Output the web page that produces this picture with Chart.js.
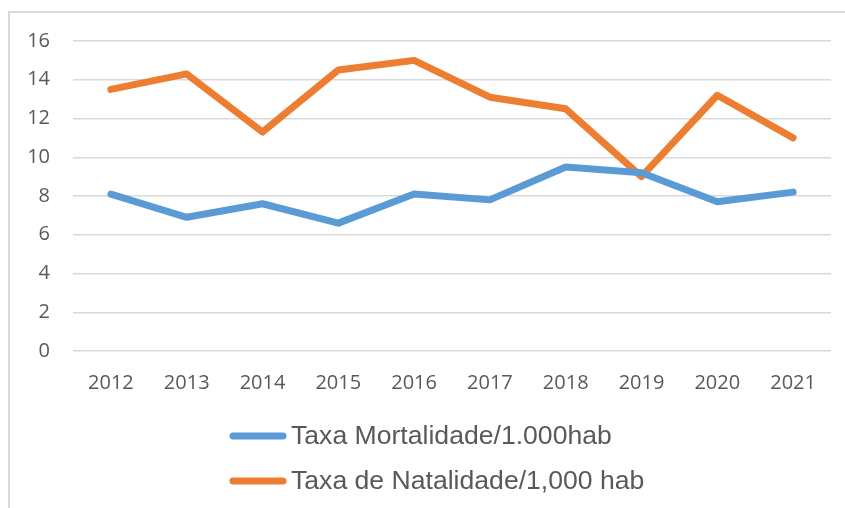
<!DOCTYPE html>
<html>
<head>
<meta charset="utf-8">
<script src="https://cdn.jsdelivr.net/npm/chart.js@4"></script>
<style>
  html, body { margin: 0; padding: 0; background: #fff; overflow: hidden; }
  #wrap { position: relative; width: 845px; height: 508px; }
  #frame { position: absolute; left: 8px; top: 11px; width: 900px; height: 600px; border: 2px solid #d9d9d9; box-sizing: border-box; }
  canvas { position: absolute; left: 0; top: 0; }
</style>
</head>
<body>
<div id="wrap">
  <div id="frame"></div>
  <canvas id="myChart" width="845" height="508"></canvas>
</div>
<script>
var years = ['2012', '2013', '2014', '2015', '2016', '2017', '2018', '2019', '2020', '2021'];
var mortalidade = [8.1, 6.9, 7.6, 6.6, 8.1, 7.8, 9.5, 9.2, 7.7, 8.2];
var natalidade = [13.5, 14.3, 11.3, 14.5, 15.0, 13.1, 12.5, 9.0, 13.2, 11.0];
var seriesNames = ['Taxa Mortalidade/1.000hab', 'Taxa de Natalidade/1,000 hab'];
var yTicks = [0, 2, 4, 6, 8, 10, 12, 14, 16];

// legend drawn by hand so both rows start at the same x
var legendPlugin = {
  id: 'stackedLegend',
  afterDraw: function (chart) {
    var ctx = chart.ctx;
    var rows = [436, 481];
    ctx.save();
    ctx.font = '26.6px "Liberation Sans", Arial, sans-serif';
    ctx.fillStyle = '#595959';
    ctx.textBaseline = 'middle';
    chart.data.datasets.forEach(function (ds, i) {
      var y = rows[i];
      ctx.strokeStyle = ds.borderColor;
      ctx.lineWidth = 7;
      ctx.lineCap = 'round';
      ctx.beginPath();
      ctx.moveTo(233, y);
      ctx.lineTo(283, y);
      ctx.stroke();
      ctx.fillText(ds.label, 291, y + 1);
    });
    ctx.restore();
  }
};

var ctx = document.getElementById('myChart').getContext('2d');
var myChart = new Chart(ctx, {
  type: 'line',
  data: {
    labels: years,
    datasets: [{
      label: seriesNames[0],
      data: mortalidade,
      borderColor: '#5b9bd5',
      backgroundColor: '#5b9bd5',
      borderWidth: 7,
      borderCapStyle: 'round',
      borderJoinStyle: 'round',
      pointRadius: 0,
      tension: 0
    }, {
      label: seriesNames[1],
      data: natalidade,
      borderColor: '#ed7d31',
      backgroundColor: '#ed7d31',
      borderWidth: 7,
      borderCapStyle: 'round',
      borderJoinStyle: 'round',
      pointRadius: 0,
      tension: 0
    }]
  },
  options: {
    responsive: false,
    animation: false,
    layout: { padding: { left: 0, right: 14, top: 41, bottom: 0 } },
    plugins: {
      legend: { display: false },
      tooltip: { enabled: false }
    },
    scales: {
      x: {
        offset: true,
        grid: { display: false, drawTicks: false },
        border: { display: false },
        ticks: {
          color: '#595959',
          font: { family: '"Open Sans", sans-serif', size: 20 },
          padding: 20,
          maxRotation: 0
        },
        afterFit: function (axis) { axis.height = 157; }
      },
      y: {
        min: 0,
        max: 16,
        afterBuildTicks: function (axis) {
          axis.ticks = yTicks.map(function (v) { return { value: v }; });
        },
        grid: { color: '#d9d9d9', lineWidth: 1.5, drawTicks: false },
        border: { display: false },
        ticks: {
          color: '#595959',
          font: { family: '"Open Sans", sans-serif', size: 20 },
          padding: 23
        },
        afterFit: function (axis) { axis.width = 73; }
      }
    }
  },
  plugins: [legendPlugin]
});
</script>
</body>
</html>
